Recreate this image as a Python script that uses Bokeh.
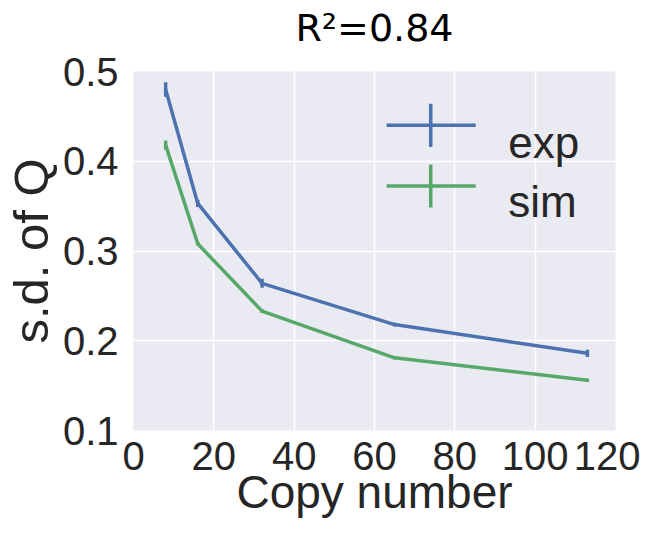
from bokeh.plotting import figure
from bokeh.models import Range1d, FixedTicker, Title
from bokeh.core.properties import value
from bokeh.embed import file_html
from bokeh.resources import INLINE

# ---- data ----
copy_number = [8, 16, 32, 65, 113]
exp_sd = [0.480, 0.353, 0.264, 0.218, 0.186]
exp_err = [0.008, 0.004, 0.005, 0.002, 0.004]
sim_sd = [0.418, 0.308, 0.233, 0.181, 0.156]
sim_err = [0.005, 0.002, 0.002, 0.002, 0.002]
series_names = ["exp", "sim"]
x_ticks = [0, 20, 40, 60, 80, 100, 120]
y_ticks = [0.1, 0.2, 0.3, 0.4, 0.5]
title_text = "R\u00b2=0.84"
x_label = "Copy number"
y_label = "s.d. of Q"

BLUE = "#4C72B0"
GREEN = "#55A868"
TEXT = "#262626"
FONT = "Liberation Sans"

p = figure(width=640, height=520, output_backend="svg", toolbar_location=None,
           x_range=Range1d(0, 120), y_range=Range1d(0.1, 0.5),
           min_border_left=126, min_border_right=25,
           min_border_top=71, min_border_bottom=80)
p.background_fill_color = "#EAEAF2"
p.border_fill_color = "white"
p.outline_line_color = None
p.grid.grid_line_color = "white"
p.grid.grid_line_width = 1.5
p.xgrid.ticker = FixedTicker(ticks=x_ticks)
p.ygrid.ticker = FixedTicker(ticks=y_ticks)

p.title.text = title_text
p.title.align = "center"
p.title.vertical_align = "top"
p.title.standoff = 0
p.title.text_font = "DejaVu Sans"
p.title.text_font_size = "38px"
p.title.text_font_style = "normal"
p.title.text_color = "black"
# blank spacer between the title and the plot area
p.add_layout(Title(text=" ", text_font_size="10px", standoff=7), "above")

for ax in (p.xaxis[0], p.yaxis[0]):
    ax.axis_line_color = None
    ax.major_tick_line_color = None
    ax.minor_tick_line_color = None
    ax.major_label_text_font = FONT
    ax.major_label_text_font_size = "40px"
    ax.major_label_text_color = TEXT
    ax.axis_label_text_font = FONT
    ax.axis_label_text_font_style = "normal"
    ax.axis_label_text_color = TEXT

p.xaxis[0].ticker = FixedTicker(ticks=x_ticks)
p.yaxis[0].ticker = FixedTicker(ticks=y_ticks)
p.xaxis[0].axis_label = x_label
p.yaxis[0].axis_label = y_label
p.xaxis[0].axis_label_text_font_size = "46px"
p.yaxis[0].axis_label_text_font_size = "49px"
p.xaxis[0].major_label_standoff = 5
p.yaxis[0].major_label_standoff = 9
p.xaxis[0].axis_label_standoff = -7
p.yaxis[0].axis_label_standoff = 2

# ---- data lines with error bars ----
for ys, es, col in ((exp_sd, exp_err, BLUE), (sim_sd, sim_err, GREEN)):
    p.line(copy_number, ys, line_color=col, line_width=3.5)
    lo = [y - e for y, e in zip(ys, es)]
    hi = [y + e for y, e in zip(ys, es)]
    p.segment(x0=copy_number, y0=lo, x1=copy_number, y1=hi, line_color=col, line_width=3.5)

# ---- legend (drawn manually, no frame, errorbar-style handles) ----
leg_y = [0.44, 0.3725]
leg_text_y = [0.421, 0.355]
for name, y, ty, col in zip(series_names, leg_y, leg_text_y, (BLUE, GREEN)):
    p.segment(x0=[63], y0=[y], x1=[85.2], y1=[y], line_color=col, line_width=3.5)
    p.segment(x0=[74], y0=[y - 0.024], x1=[74], y1=[y + 0.024], line_color=col, line_width=3.5)
    p.text(x=[93.3], y=[ty], text=[name], text_font=value(FONT), text_font_size="44px",
           text_color=TEXT, text_baseline="alphabetic", text_align="left")

open("out.html", "w").write(file_html(p, INLINE))
